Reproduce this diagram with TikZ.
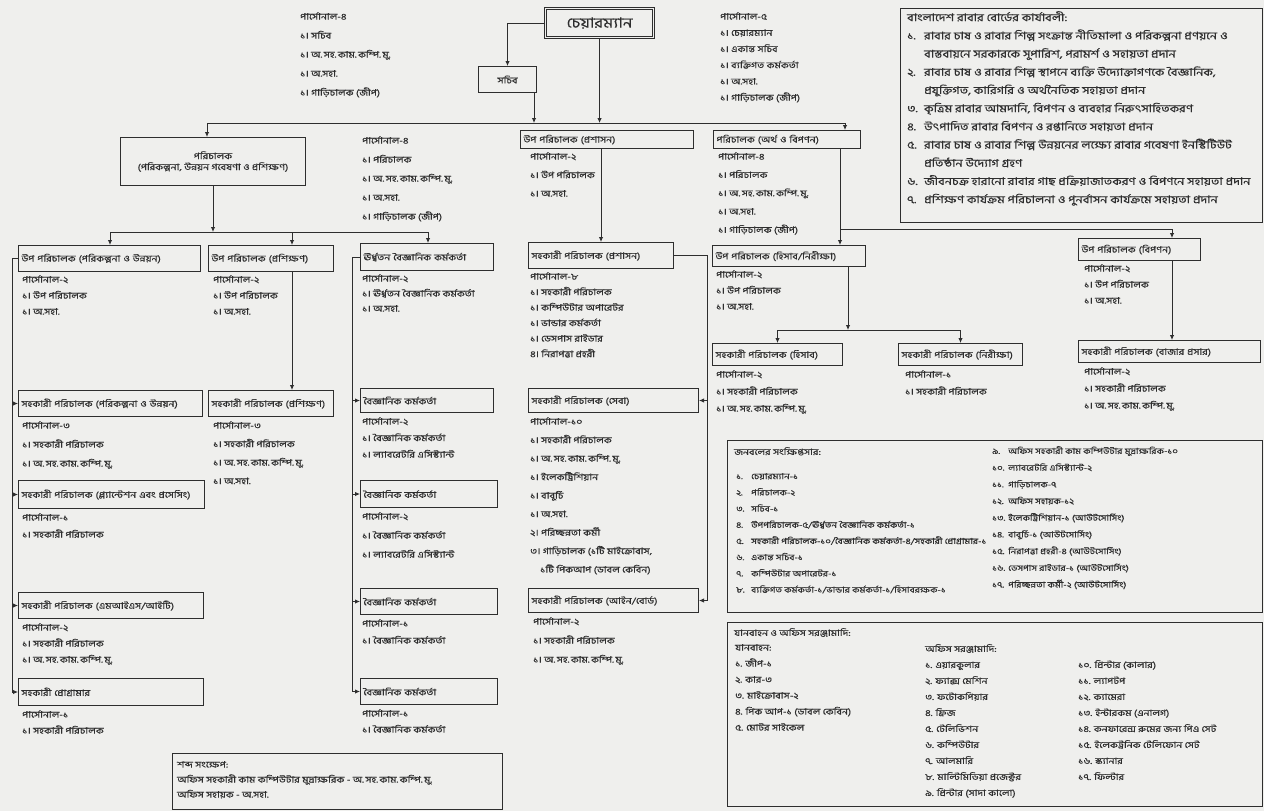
\documentclass[tikz,border=0pt]{standalone}
\usepackage{fontspec}
\setmainfont[Script=Bengali]{Hind Siliguri}
\newfontfamily\bn[Script=Bengali, FakeStretch=1.2, FakeBold=0.4]{Hind Siliguri}
\usetikzlibrary{arrows.meta}
\definecolor{paper}{HTML}{EFEFED}
\definecolor{ink}{HTML}{2E2E2E}
\newcommand{\dnum}[2][16pt]{\makebox[#1][l]{#2}}
\newcommand{\osk}{অ.\,সহ.\,কাম.\,কম্পি.\,মু.}

\begin{document}
\begin{tikzpicture}[
  x=1pt, y=-1pt,
  font=\bn\fontsize{8.8}{11}\selectfont,
  post/.style={draw=ink, line width=1pt, anchor=north west, inner xsep=3pt,
    inner ysep=0pt, align=left, text=ink},
  chief/.style={draw=ink, double=paper, double distance=1.4pt, line width=1.1pt,
    anchor=north west, inner sep=0pt, text=ink, font=\bn\fontsize{14}{16}\selectfont},
  frame/.style={draw=ink, line width=0.9pt, anchor=north west, inner sep=0pt},
  staff/.style={anchor=north west, inner sep=0pt, align=left, text=ink,
    font=\bn\fontsize{8.8}{#1}\selectfont},
  staff/.default=16,
  note/.style={anchor=north west, inner sep=0pt, align=left, text=ink,
    font=\bn\fontsize{#1}{16}\selectfont},
  wire/.style={draw=ink, line width=0.9pt},
  arr/.style={wire, -{Latex[length=5pt,width=4.5pt]}}
]
\useasboundingbox (0,0) rectangle (1264,811);
\fill[paper] (0,0) rectangle (1264,811);

% top
\node[chief, minimum width=108pt, minimum height=29pt] (chair) at (545,8) {চেয়ারম্যান};
\node[post, minimum width=58pt, minimum height=26pt, align=center] (sachib) at (478,66) {সচিব};
\node[staff=19] (lsSachib) at (300,12) {পার্সোনাল-৪\\১। সচিব\\১। \osk\\১। অ.সহা.\\১। গাড়িচালক (জীপ)};
\node[staff=16.2] (lsChair) at (720,12) {পার্সোনাল-৫\\১। চেয়ারম্যান\\১। একান্ত সচিব\\১। ব্যক্তিগত কর্মকর্তা\\১। অ.সহা.\\১। গাড়িচালক (জীপ)};

\coordinate (busL) at (207,123);
\coordinate (busR) at (845,123);
\draw[arr] (chair.west) -| (sachib.north);
\draw[arr] (chair.south) -- (chair.south |- busL);
\draw[arr] ([xshift=-3pt]sachib.south east) -- ([xshift=-3pt]sachib.south east |- busL);
\draw[wire] (busL) -- (busR);

% directors
\node[post, minimum width=185pt, minimum height=48pt, align=center] (dirPlan) at (120,137)
  {পরিচালক\\(পরিকল্পনা, উন্নয়ন গবেষণা ও প্রশিক্ষণ)};
\node[post, text width=167pt, minimum height=18pt] (dpAdmin) at (520,130) {উপ পরিচালক (প্রশাসন)};
\node[post, text width=141pt, minimum height=18pt] (dirFin) at (713,130) {পরিচালক (অর্থ ও বিপণন)};
\node[staff=19] (lsDirPlan) at (362,136) {পার্সোনাল-৪\\১। পরিচালক\\১। \osk\\১। অ.সহা.\\১। গাড়িচালক (জীপ)};
\node[staff=18.5] (lsDpAdmin) at ([shift={(10pt,-3pt)}]dpAdmin.south west) {পার্সোনাল-২\\১। উপ পরিচালক\\১। অ.সহা.};
\node[staff=18.3] (lsDirFin) at ([shift={(5pt,-3pt)}]dirFin.south west) {পার্সোনাল-৪\\১। পরিচালক\\১। \osk\\১। অ.সহা.\\১। গাড়িচালক (জীপ)};

\draw[arr] (busL) -- (busL |- dirPlan.north);
\draw[arr] (busR) -- (busR |- dirFin.north);

% functions
\node[frame, minimum width=362pt, minimum height=214pt] (duty) at (900,8) {};
\node[note=10.6, font=\bn\fontsize{10.6}{18.2}\selectfont] (lsDuty) at (907,11) {বাংলাদেশ রাবার বোর্ডের কার্যাবলী:\\
\dnum[17pt]{১.}রাবার চাষ ও রাবার শিল্প সংক্রান্ত নীতিমালা ও পরিকল্পনা প্রণয়নে ও\\
\hspace*{17pt}বাস্তবায়নে সরকারকে সুপারিশ, পরামর্শ ও সহায়তা প্রদান\\
\dnum[17pt]{২.}রাবার চাষ ও রাবার শিল্প স্থাপনে ব্যক্তি উদ্যোক্তাগণকে বৈজ্ঞানিক,\\
\hspace*{17pt}প্রযুক্তিগত, কারিগরি ও অর্থনৈতিক সহায়তা প্রদান\\
\dnum[17pt]{৩.}কৃত্রিম রাবার আমদানি, বিপণন ও ব্যবহার নিরুৎসাহিতকরণ\\
\dnum[17pt]{৪.}উৎপাদিত রাবার বিপণন ও রপ্তানিতে সহায়তা প্রদান\\
\dnum[17pt]{৫.}রাবার চাষ ও রাবার শিল্প উন্নয়নের লক্ষ্যে রাবার গবেষণা ইনস্টিটিউট\\
\hspace*{17pt}প্রতিষ্ঠান উদ্যোগ গ্রহণ\\
\dnum[17pt]{৬.}জীবনচক্র হারানো রাবার গাছ প্রক্রিয়াজাতকরণ ও বিপণনে সহায়তা প্রদান\\
\dnum[17pt]{৭.}প্রশিক্ষণ কার্যক্রম পরিচালনা ও পুনর্বাসন কার্যক্রমে সহায়তা প্রদান};

% third row
\coordinate (bus2L) at (110,232);
\coordinate (bus2R) at (428,232);
\coordinate (tapT) at (292,232);
\node[post, text width=176pt, minimum height=26pt] (dpPlan) at (18,245) {উপ পরিচালক (পরিকল্পনা ও উন্নয়ন)};
\node[post, text width=119pt, minimum height=26pt] (dpTrain) at (208,245) {উপ পরিচালক (প্রশিক্ষণ)};
\node[post, text width=127pt, minimum height=27pt] (sso) at (360,243) {ঊর্ধ্বতন বৈজ্ঞানিক কর্মকর্তা};
\node[post, text width=139pt, minimum height=26pt] (apAdmin) at (528,242) {সহকারী পরিচালক (প্রশাসন)};
\node[post, text width=147pt, minimum height=21pt] (dpAcc) at (712,245) {উপ পরিচালক (হিসাব/নিরীক্ষা)};
\node[post, text width=116pt, minimum height=22pt] (dpMkt) at (1078,238) {উপ পরিচালক (বিপণন)};

\node[staff] (lsDpPlan) at ([shift={(4pt,-3pt)}]dpPlan.south west) {পার্সোনাল-২\\১। উপ পরিচালক\\১। অ.সহা.};
\node[staff] (lsDpTrain) at ([shift={(5pt,-3pt)}]dpTrain.south west) {পার্সোনাল-২\\১। উপ পরিচালক\\১। অ.সহা.};
\node[staff=15] (lsSso) at ([shift={(2pt,-3pt)}]sso.south west) {পার্সোনাল-২\\১। ঊর্ধ্বতন বৈজ্ঞানিক কর্মকর্তা\\১। অ.সহা.};
\node[staff=15.5] (lsApAdmin) at ([shift={(2pt,-3pt)}]apAdmin.south west) {পার্সোনাল-৮\\১। সহকারী পরিচালক\\১। কম্পিউটার অপারেটর\\১। ভান্ডার কর্মকর্তা\\১। ডেসপাস রাইডার\\৪। নিরাপত্তা প্রহরী};
\node[staff] (lsDpAcc) at ([shift={(4pt,-3pt)}]dpAcc.south west) {পার্সোনাল-২\\১। উপ পরিচালক\\১। অ.সহা.};
\node[staff] (lsDpMkt) at ([shift={(6pt,-3pt)}]dpMkt.south west) {পার্সোনাল-২\\১। উপ পরিচালক\\১। অ.সহা.};

\draw[arr] (dirPlan.south) -- (dirPlan.south |- bus2L);
\draw[wire] (bus2L) -- (bus2R);
\draw[arr] (bus2L) -- (bus2L |- dpPlan.north);
\draw[arr] (tapT) -- (tapT |- dpTrain.north);
\draw[arr] (bus2R) -- (bus2R |- sso.north);
\draw[arr] (apAdmin.north |- dpAdmin.south) -- (apAdmin.north);

\coordinate (finX) at (840,229);
\coordinate (mktX) at (1172,0);
\coordinate (accX) at (848,330);
\draw[arr] (finX |- dirFin.south) -- (finX |- dpAcc.north);
\draw[arr] (finX) -| (mktX |- dpMkt.north);

% finance branch
\node[post, text width=124pt, minimum height=22pt] (apAcc) at (712,343) {সহকারী পরিচালক (হিসাব)};
\node[post, text width=118pt, minimum height=22pt] (apAudit) at (898,343) {সহকারী পরিচালক (নিরীক্ষা)};
\node[post, text width=176pt, minimum height=22pt] (apMkt) at (1078,340) {সহকারী পরিচালক (বাজার প্রসার)};
\node[staff=17] (lsApAcc) at ([shift={(4pt,-4pt)}]apAcc.south west) {পার্সোনাল-২\\১। সহকারী পরিচালক\\১। \osk};
\node[staff=17] (lsApAudit) at ([shift={(7pt,-4pt)}]apAudit.south west) {পার্সোনাল-১\\১। সহকারী পরিচালক};
\node[staff=17] (lsApMkt) at ([shift={(6pt,-4pt)}]apMkt.south west) {পার্সোনাল-২\\১। সহকারী পরিচালক\\১। \osk};

\draw[arr] (accX |- dpAcc.south) -- (accX);
\draw[arr] (accX) -| (apAcc.north);
\draw[arr] (accX) -| (apAudit.north);
\draw[arr] (mktX |- dpMkt.south) -- (mktX |- apMkt.north);

% lower left columns
\node[post, text width=178pt, minimum height=26pt] (apPlan) at (18,390) {সহকারী পরিচালক (পরিকল্পনা ও উন্নয়ন)};
\node[post, text width=119pt, minimum height=26pt] (apTrain) at (208,390) {সহকারী পরিচালক (প্রশিক্ষণ)};
\node[post, text width=127pt, minimum height=24pt] (so1) at (360,388) {বৈজ্ঞানিক কর্মকর্তা};
\node[post, text width=164pt, minimum height=24pt] (apServ) at (528,388) {সহকারী পরিচালক (সেবা)};
\node[post, text width=180pt, minimum height=28pt] (apPlant) at (18,480) {সহকারী পরিচালক (প্ল্যান্টেশন এবং প্রসেসিং)};
\node[post, text width=131pt, minimum height=27pt] (so2) at (360,480) {বৈজ্ঞানিক কর্মকর্তা};
\node[post, text width=164pt, minimum height=24pt] (apLaw) at (528,588) {সহকারী পরিচালক (আইন/বোর্ড)};
\node[post, text width=179pt, minimum height=26pt] (apMis) at (18,592) {সহকারী পরিচালক (এমআইএস/আইটি)};
\node[post, text width=131pt, minimum height=26pt] (so3) at (360,588) {বৈজ্ঞানিক কর্মকর্তা};
\node[post, text width=179pt, minimum height=27pt] (progr) at (18,678) {সহকারী প্রোগ্রামার};
\node[post, text width=131pt, minimum height=26pt] (so4) at (360,678) {বৈজ্ঞানিক কর্মকর্তা};

\node[staff=19] (lsApPlan) at ([shift={(4pt,-4pt)}]apPlan.south west) {পার্সোনাল-৩\\১। সহকারী পরিচালক\\১। \osk};
\node[staff=18.5] (lsApTrain) at ([shift={(5pt,-4pt)}]apTrain.south west) {পার্সোনাল-৩\\১। সহকারী পরিচালক\\১। \osk\\১। অ.সহা.};
\node[staff=16.5] (lsSo1) at ([shift={(2pt,-4pt)}]so1.south west) {পার্সোনাল-২\\১। বৈজ্ঞানিক কর্মকর্তা\\১। ল্যাবরেটরি এসিস্ট্যান্ট};
\node[staff=18.5] (lsApServ) at ([shift={(2pt,-4pt)}]apServ.south west) {পার্সোনাল-১০\\১। সহকারী পরিচালক\\১। \osk\\১। ইলেকট্রিশিয়ান\\১। বাবুর্চি\\১। অ.সহা.\\২। পরিচ্ছন্নতা কর্মী\\৩। গাড়িচালক (১টি মাইক্রোবাস,\\\hspace*{10pt}১টি পিকআপ (ডাবল কেবিন)};
\node[staff=17] (lsApPlant) at ([shift={(4pt,-4pt)}]apPlant.south west) {পার্সোনাল-১\\১। সহকারী পরিচালক};
\node[staff=19] (lsSo2) at ([shift={(2pt,-4pt)}]so2.south west) {পার্সোনাল-২\\১। বৈজ্ঞানিক কর্মকর্তা\\১। ল্যাবরেটরি এসিস্ট্যান্ট};
\node[staff=19] (lsApLaw) at ([shift={(5pt,-4pt)}]apLaw.south west) {পার্সোনাল-২\\১। সহকারী পরিচালক\\১। \osk};
\node[staff] (lsApMis) at ([shift={(4pt,-4pt)}]apMis.south west) {পার্সোনাল-২\\১। সহকারী পরিচালক\\১। \osk};
\node[staff=17] (lsSo3) at ([shift={(2pt,-4pt)}]so3.south west) {পার্সোনাল-১\\১। বৈজ্ঞানিক কর্মকর্তা};
\node[staff] (lsProgr) at ([shift={(4pt,-4pt)}]progr.south west) {পার্সোনাল-১\\১। সহকারী পরিচালক};
\node[staff] (lsSo4) at ([shift={(2pt,-4pt)}]so4.south west) {পার্সোনাল-১\\১। বৈজ্ঞানিক কর্মকর্তা};

\draw[arr] (tapT |- dpTrain.south) -- (tapT |- apTrain.north);

\coordinate (railA) at (12,0);
\coordinate (railB) at (352,0);
\coordinate (railC) at (707,0);
\draw[wire] (dpPlan.west) -- (dpPlan.west -| railA) -- (progr.west -| railA);
\foreach \b in {apPlan,apPlant,apMis,progr}
  \draw[arr] (\b.west -| railA) -- (\b.west);
\draw[wire] (sso.west) -- (sso.west -| railB) -- (so4.west -| railB);
\foreach \b in {so1,so2,so3,so4}
  \draw[arr] (\b.west -| railB) -- (\b.west);
\draw[wire] (apAdmin.east) -- (apAdmin.east -| railC) -- (apLaw.east -| railC);
\foreach \b in {apServ,apLaw}
  \draw[arr] (\b.east -| railC) -- (\b.east);

% staff summary
\node[frame, minimum width=535pt, minimum height=172pt] (sumBox) at (727,440) {};
\node[staff] (sumHead) at (734,447) {জনবলের সংক্ষিপ্তসার:};
\node[staff=16.2, font=\bn\fontsize{8.2}{16.2}\selectfont] (sumLeft) at (736,473) {\dnum[15pt]{১.}চেয়ারম্যান-১\\\dnum[15pt]{২.}পরিচালক-২\\\dnum[15pt]{৩.}সচিব-১\\
\dnum[15pt]{৪.}উপপরিচালক-৫/ঊর্ধ্বতন বৈজ্ঞানিক কর্মকর্তা-১\\
\dnum[15pt]{৫.}সহকারী পরিচালক-১০/বৈজ্ঞানিক কর্মকর্তা-৪/সহকারী প্রোগ্রামার-১\\
\dnum[15pt]{৬.}একান্ত সচিব-১\\\dnum[15pt]{৭.}কম্পিউটার অপারেটর-১\\
\dnum[15pt]{৮.}ব্যক্তিগত কর্মকর্তা-১/ভান্ডার কর্মকর্তা-১/হিসাবরক্ষক-১};
\node[staff=16.7, font=\bn\fontsize{8.2}{16.7}\selectfont] (sumRight) at (992,446) {\dnum{৯.}অফিস সহকারী কাম কম্পিউটার মুদ্রাক্ষরিক-১০\\
\dnum{১০.}ল্যাবরেটরি এসিস্ট্যান্ট-২\\\dnum{১১.}গাড়িচালক-৭\\\dnum{১২.}অফিস সহায়ক-১২\\
\dnum{১৩.}ইলেকট্রিশিয়ান-১ (আউটসোর্সিং)\\\dnum{১৪.}বাবুর্চি-১ (আউটসোর্সিং)\\
\dnum{১৫.}নিরাপত্তা প্রহরী-৪ (আউটসোর্সিং)\\\dnum{১৬.}ডেসপাস রাইডার-১ (আউটসোর্সিং)\\
\dnum{১৭.}পরিচ্ছন্নতা কর্মী-২ (আউটসোর্সিং)};

% vehicles and equipment
\node[frame, minimum width=535pt, minimum height=184pt] (kitBox) at (727,622) {};
\node[staff] (kitHead) at (734,628) {যানবাহন ও অফিস সরঞ্জামাদি:};
\node[staff] (kitCar) at (735,644) {যানবাহন:\\১. জীপ-১\\২. কার-৩\\৩. মাইক্রোবাস-২\\৪. পিক আপ-১ (ডাবল কেবিন)\\৫. মোটর সাইকেল};
\node[staff] (kitOffA) at (925,644) {অফিস সরঞ্জামাদি:\\১. এয়ারকুলার\\২. ফ্যাক্স মেশিন\\৩. ফটোকপিয়ার\\৪. ফ্রিজ\\৫. টেলিভিশন\\৬. কম্পিউটার\\৭. আলমারি\\৮. মাল্টিমিডিয়া প্রজেক্টর\\৯. প্রিন্টার (সাদা কালো)};
\node[staff] (kitOffB) at (1078,660) {১০. প্রিন্টার (কালার)\\১১. ল্যাপটপ\\১২. ক্যামেরা\\১৩. ইন্টারকম (এনালগ)\\১৪. কনফারেন্স রুমের জন্য পিএ সেট\\১৫. ইলেকট্রনিক টেলিফোন সেট\\১৬. স্ক্যানার\\১৭. ফিল্টার};

% abbreviations
\node[frame, minimum width=330pt, minimum height=56pt] (abbrBox) at (172,753) {};
\node[staff=15] (abbrText) at (177,761) {শব্দ সংক্ষেপ:\\অফিস সহকারী কাম কম্পিউটার মুদ্রাক্ষরিক - \osk\\অফিস সহায়ক - অ.সহা.};
\end{tikzpicture}
\end{document}
